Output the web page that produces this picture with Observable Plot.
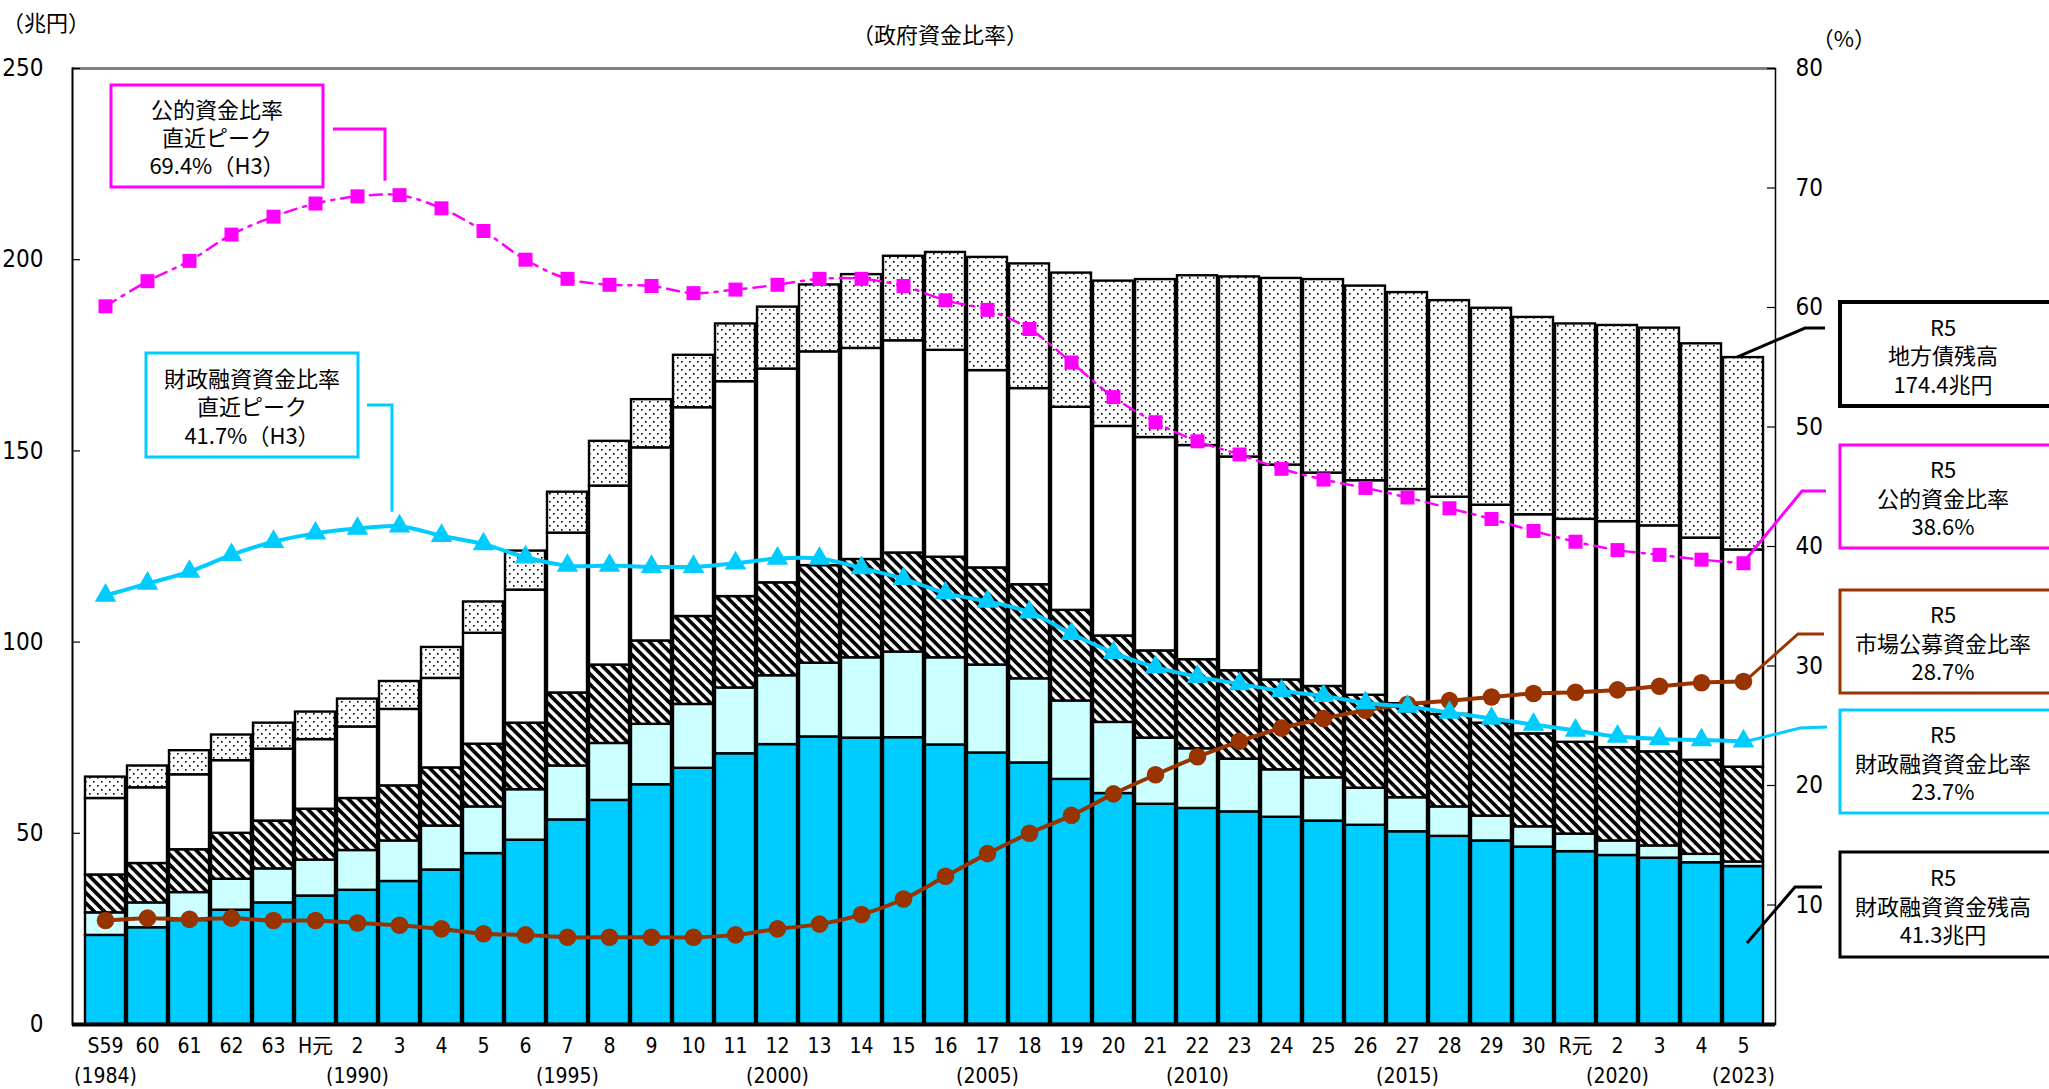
<!DOCTYPE html>
<html><head><meta charset="utf-8">
<script src="https://cdn.jsdelivr.net/npm/d3@7"></script>
<script src="https://cdn.jsdelivr.net/npm/@observablehq/plot@0.6"></script>
<style>
html,body{margin:0;padding:0;background:#fff;}
#chart{position:relative;width:2049px;height:1089px;overflow:hidden;background:#fff;}
</style></head><body>
<svg width="0" height="0" style="position:absolute">
<defs>
<pattern id="hatch" patternUnits="userSpaceOnUse" width="14" height="7.2" patternTransform="rotate(45)">
<rect width="14" height="7.2" fill="#fff"/>
<rect width="14" height="3.7" fill="#000"/>
</pattern>
<pattern id="dots" patternUnits="userSpaceOnUse" width="8" height="8">
<rect width="8" height="8" fill="#fff"/>
<rect x="1" y="1" width="1.6" height="1.6" fill="#000"/>
<rect x="5" y="5" width="1.6" height="1.6" fill="#000"/>
</pattern>
</defs></svg>
<div id="chart"></div>
<script>
// ---- data ----
const years = [1984,1985,1986,1987,1988,1989,1990,1991,1992,1993,1994,1995,1996,1997,1998,1999,2000,2001,2002,2003,2004,2005,2006,2007,2008,2009,2010,2011,2012,2013,2014,2015,2016,2017,2018,2019,2020,2021,2022,2023];
const eraLabels = ["S59","60","61","62","63","H元","2","3","4","5","6","7","8","9","10","11","12","13","14","15","16","17","18","19","20","21","22","23","24","25","26","27","28","29","30","R元","2","3","4","5"];
const adLabels = ["(1984)","","","","","","(1990)","","","","","(1995)","","","","","(2000)","","","","","(2005)","","","","","(2010)","","","","","(2015)","","","","","(2020)","","","(2023)"];

// stacked amounts (兆円), bottom to top
const fiscalLoanFunds = [23.3,25.3,27.2,29.9,31.8,33.6,35.1,37.4,40.4,44.7,48.2,53.5,58.6,62.7,67.0,70.8,73.2,75.2,74.9,75.0,73.1,71.0,68.4,64.1,60.4,57.6,56.5,55.6,54.2,53.2,52.1,50.4,49.2,48.0,46.4,45.2,44.2,43.5,42.3,41.3];
const postalInsuranceFunds = [5.9,6.5,7.3,8.1,8.9,9.4,10.4,10.6,11.5,12.2,13.2,14.1,14.9,15.8,16.7,17.2,18.0,19.3,21.0,22.4,22.8,23.0,22.0,20.5,18.6,17.3,15.6,13.8,12.4,11.3,9.7,8.9,7.7,6.5,5.3,4.6,3.8,3.2,2.2,1.2];
const jfmFunds = [9.9,10.3,11.2,12.0,12.5,13.3,13.6,14.4,15.2,16.4,17.4,19.1,20.5,21.8,23.0,23.9,24.3,25.5,25.7,25.9,26.3,25.4,24.6,23.7,22.6,22.8,23.3,23.1,23.5,23.9,24.3,24.6,24.2,24.3,24.3,24.0,24.4,24.6,24.6,24.8];
const bankFunds = [20.0,19.8,19.6,19.0,18.8,18.2,18.7,20.0,23.4,29.0,34.8,41.8,46.8,50.5,54.6,56.2,55.9,55.9,55.2,55.5,54.1,51.6,51.3,53.1,54.8,55.8,56.0,55.9,56.2,55.8,56.1,56.0,56.8,57.0,57.3,58.3,59.1,59.1,58.1,56.8];
const marketFunds = [5.6,5.7,6.3,6.7,6.8,7.2,7.3,7.3,8.1,8.2,10.2,10.7,11.7,12.6,13.7,15.1,16.2,17.5,19.3,22.1,25.6,29.6,32.6,35.1,38.0,41.3,44.4,47.1,48.8,50.6,50.9,51.5,51.4,51.5,51.6,51.1,51.3,51.7,50.8,50.3];

// ratios (%)
const publicFundRatio = [60.1,62.2,63.9,66.1,67.6,68.7,69.3,69.4,68.3,66.4,64.0,62.4,61.9,61.8,61.2,61.5,61.9,62.4,62.4,61.8,60.6,59.8,58.2,55.4,52.5,50.4,48.8,47.7,46.5,45.6,44.9,44.1,43.2,42.3,41.3,40.4,39.7,39.3,38.9,38.6];
const fiscalLoanRatio = [35.9,36.9,37.9,39.3,40.4,41.1,41.5,41.7,40.9,40.2,39.1,38.4,38.4,38.3,38.3,38.6,39.0,39.0,38.2,37.3,36.1,35.4,34.5,32.7,31.1,29.9,29.1,28.5,27.9,27.5,26.9,26.6,26.1,25.6,25.1,24.6,24.1,23.9,23.8,23.7];
const marketRatio = [8.7,8.9,8.8,8.9,8.7,8.7,8.5,8.3,8.0,7.6,7.5,7.3,7.3,7.3,7.3,7.5,8.0,8.4,9.2,10.5,12.4,14.3,16.0,17.5,19.3,20.9,22.4,23.7,24.8,25.6,26.3,26.8,27.1,27.4,27.7,27.8,28.0,28.3,28.6,28.7];

const leftTicks = [0,50,100,150,200,250];
const rightTicks = [10,20,30,40,50,60,70,80];

// ---- build ----
const W = 2049, H = 1089;
const mL = 72, mR = 274, mT = 68, mB = 65;
const plotW = W - mL - mR;
const K = 250 / 80; // % -> left-axis units

const series = [
  {name:"財政融資資金", values: fiscalLoanFunds, fill:"#00CCFF"},
  {name:"旧郵貯・簡保資金", values: postalInsuranceFunds, fill:"#CCFFFF"},
  {name:"地方公共団体金融機構資金", values: jfmFunds, fill:"url(#hatch)"},
  {name:"銀行等引受資金", values: bankFunds, fill:"#FFFFFF"},
  {name:"市場公募資金", values: marketFunds, fill:"url(#dots)"}
];
const stackMarks = series.map((s, k) => {
  const rows = years.map((yr, i) => {
    let base = 0;
    for (let j = 0; j < k; j++) base += series[j].values[i];
    return {year: yr, y1: base, y2: base + s.values[i]};
  });
  return Plot.barY(rows, {x: "year", y1: "y1", y2: "y2", fill: s.fill, stroke: "#000", strokeWidth: 2.4});
});

const ratioRows = arr => years.map((yr, i) => ({year: yr, v: arr[i] * K}));

const FONT = '"Liberation Sans Narrow","DejaVu Sans Condensed","Noto Sans CJK JP",sans-serif';

const chart = Plot.plot({
  width: W, height: H,
  marginLeft: mL, marginRight: mR, marginTop: mT, marginBottom: mB,
  style: {fontFamily: FONT, fontSize: "24px", background: "#fff", color: "#000"},
  x: {type: "band", domain: years, paddingInner: 0.05, paddingOuter: 0.025, axis: null},
  y: {domain: [0, 250], axis: null},
  marks: [
    Plot.ruleY([250], {stroke: "#808080", strokeWidth: 3}),
    ...stackMarks,
    Plot.frame({anchor: "left", stroke: "#000", strokeWidth: 2}),
    Plot.frame({anchor: "right", stroke: "#000", strokeWidth: 1.5}),
    Plot.ruleY([0], {stroke: "#000", strokeWidth: 4}),
    Plot.ruleY(leftTicks.slice(1), {y: d => d, insetRight: plotW - 8, stroke: "#000", strokeWidth: 1.2}),
    Plot.ruleY(rightTicks, {y: d => d * K, insetLeft: plotW - 8, stroke: "#000", strokeWidth: 1.2}),
    Plot.axisY({anchor: "left", ticks: leftTicks, tickSize: 0, tickPadding: 29, fontSize: 24, label: null}),
    Plot.axisY({anchor: "right", ticks: rightTicks.map(p => p * K), tickFormat: d => Math.round(d / K), tickSize: 0, tickPadding: 20, fontSize: 24, label: null}),
    Plot.text(years, {x: d => d, text: (d, i) => eraLabels[i], frameAnchor: "bottom", dy: 28, fontSize: 21}),
    Plot.text(years, {x: d => d, text: (d, i) => adLabels[i], frameAnchor: "bottom", dy: 58, fontSize: 21}),
    // market ratio (brown)
    Plot.line(ratioRows(marketRatio), {x: "year", y: "v", stroke: "#993300", strokeWidth: 4, curve: "catmull-rom"}),
    Plot.dot(ratioRows(marketRatio), {x: "year", y: "v", r: 8.8, fill: "#993300", symbol: "circle"}),
    // fiscal loan ratio (cyan)
    Plot.line(ratioRows(fiscalLoanRatio), {x: "year", y: "v", stroke: "#00CCFF", strokeWidth: 4, curve: "catmull-rom"}),
    Plot.dot(ratioRows(fiscalLoanRatio), {x: "year", y: "v", r: 8, fill: "#00CCFF", symbol: "triangle"}),
    // public fund ratio (magenta)
    Plot.line(ratioRows(publicFundRatio), {x: "year", y: "v", stroke: "#FF00FF", strokeWidth: 2.5, strokeDasharray: "12,7,3,7", curve: "catmull-rom"}),
    Plot.dot(ratioRows(publicFundRatio), {x: "year", y: "v", r: 7.9, fill: "#FF00FF", symbol: "square"})
  ]
});
document.getElementById("chart").appendChild(chart);

// ---- annotations ----
const svg = d3.select(chart);
const xs = chart.scale("x"), ys = chart.scale("y");
const xc = yr => xs.apply(yr) + xs.bandwidth / 2;
const yv = v => ys.apply(v);
const JP = '"Noto Sans CJK JP",sans-serif';
const last = years.length - 1;
const totalLast = series.reduce((a, s) => a + s.values[last], 0);

function addText(x, y, str, opts = {}) {
  svg.append("text").attr("x", x).attr("y", y)
    .attr("text-anchor", opts.anchor || "middle").attr("dominant-baseline", "central")
    .attr("font-family", opts.font || JP).attr("font-size", opts.size || 22)
    .attr("fill", "#000").text(str);
}
function boxCx(x, w) { return x > 1800 ? 1943 : x + w / 2; }
function box(x, y, w, h, color, lines, lineGap, sw) {
  svg.append("rect").attr("x", x).attr("y", y).attr("width", w).attr("height", h)
    .attr("fill", "#fff").attr("stroke", color).attr("stroke-width", sw || 3);
  const n = lines.length, cy = y + h / 2;
  lines.forEach((t, i) => addText(boxCx(x, w), cy + (i - (n - 1) / 2) * lineGap, t));
}
function conn(points, color, sw) {
  svg.append("path").attr("d", d3.line()(points)).attr("fill", "none")
    .attr("stroke", color).attr("stroke-width", sw || 3);
}

addText(2, 21, "（兆円）", {anchor: "start", size: 22});
addText(940, 33, "（政府資金比率）", {size: 22});
addText(1844, 37, "（%）", {size: 22});

// peak boxes
const iPeak = years.indexOf(1991);
box(111, 85, 212, 102, "#FF00FF", ["公的資金比率", "直近ピーク", "69.4%（H3）"], 28);
conn([[333, 129], [385, 129], [385, yv(publicFundRatio[iPeak] * K) - 14]], "#FF00FF");
box(146, 353, 212, 104, "#00CCFF", ["財政融資資金比率", "直近ピーク", "41.7%（H3）"], 28.5);
conn([[367, 405], [392, 405], [392, yv(fiscalLoanRatio[iPeak] * K) - 14]], "#00CCFF");

// R5 boxes (right)
const xr = xc(years[last]);
conn([[xr - 6, yv(totalLast)], [1805, 328], [1825, 328]], "#000");
box(1840, 302, 215, 104, "#000", ["R5", "地方債残高", "174.4兆円"], 28.5, 4);
conn([[xr, yv(publicFundRatio[last] * K)], [1802, 491], [1826, 491]], "#FF00FF");
box(1840, 445, 215, 103, "#FF00FF", ["R5", "公的資金比率", "38.6%"], 28.5);
conn([[xr + 2, yv(marketRatio[last] * K)], [1798, 634], [1824, 634]], "#993300");
box(1840, 590, 215, 103, "#993300", ["R5", "市場公募資金比率", "28.7%"], 28.5);
conn([[1827, 727], [1800, 728], [xr + 6, yv(fiscalLoanRatio[last] * K)]], "#00CCFF");
box(1840, 710, 215, 103, "#00CCFF", ["R5", "財政融資資金比率", "23.7%"], 28.5);
conn([[1822, 887], [1795, 887], [xr + 4, 943]], "#000");
box(1840, 852, 215, 105, "#000", ["R5", "財政融資資金残高", "41.3兆円"], 28.5);
</script>
</body></html>
